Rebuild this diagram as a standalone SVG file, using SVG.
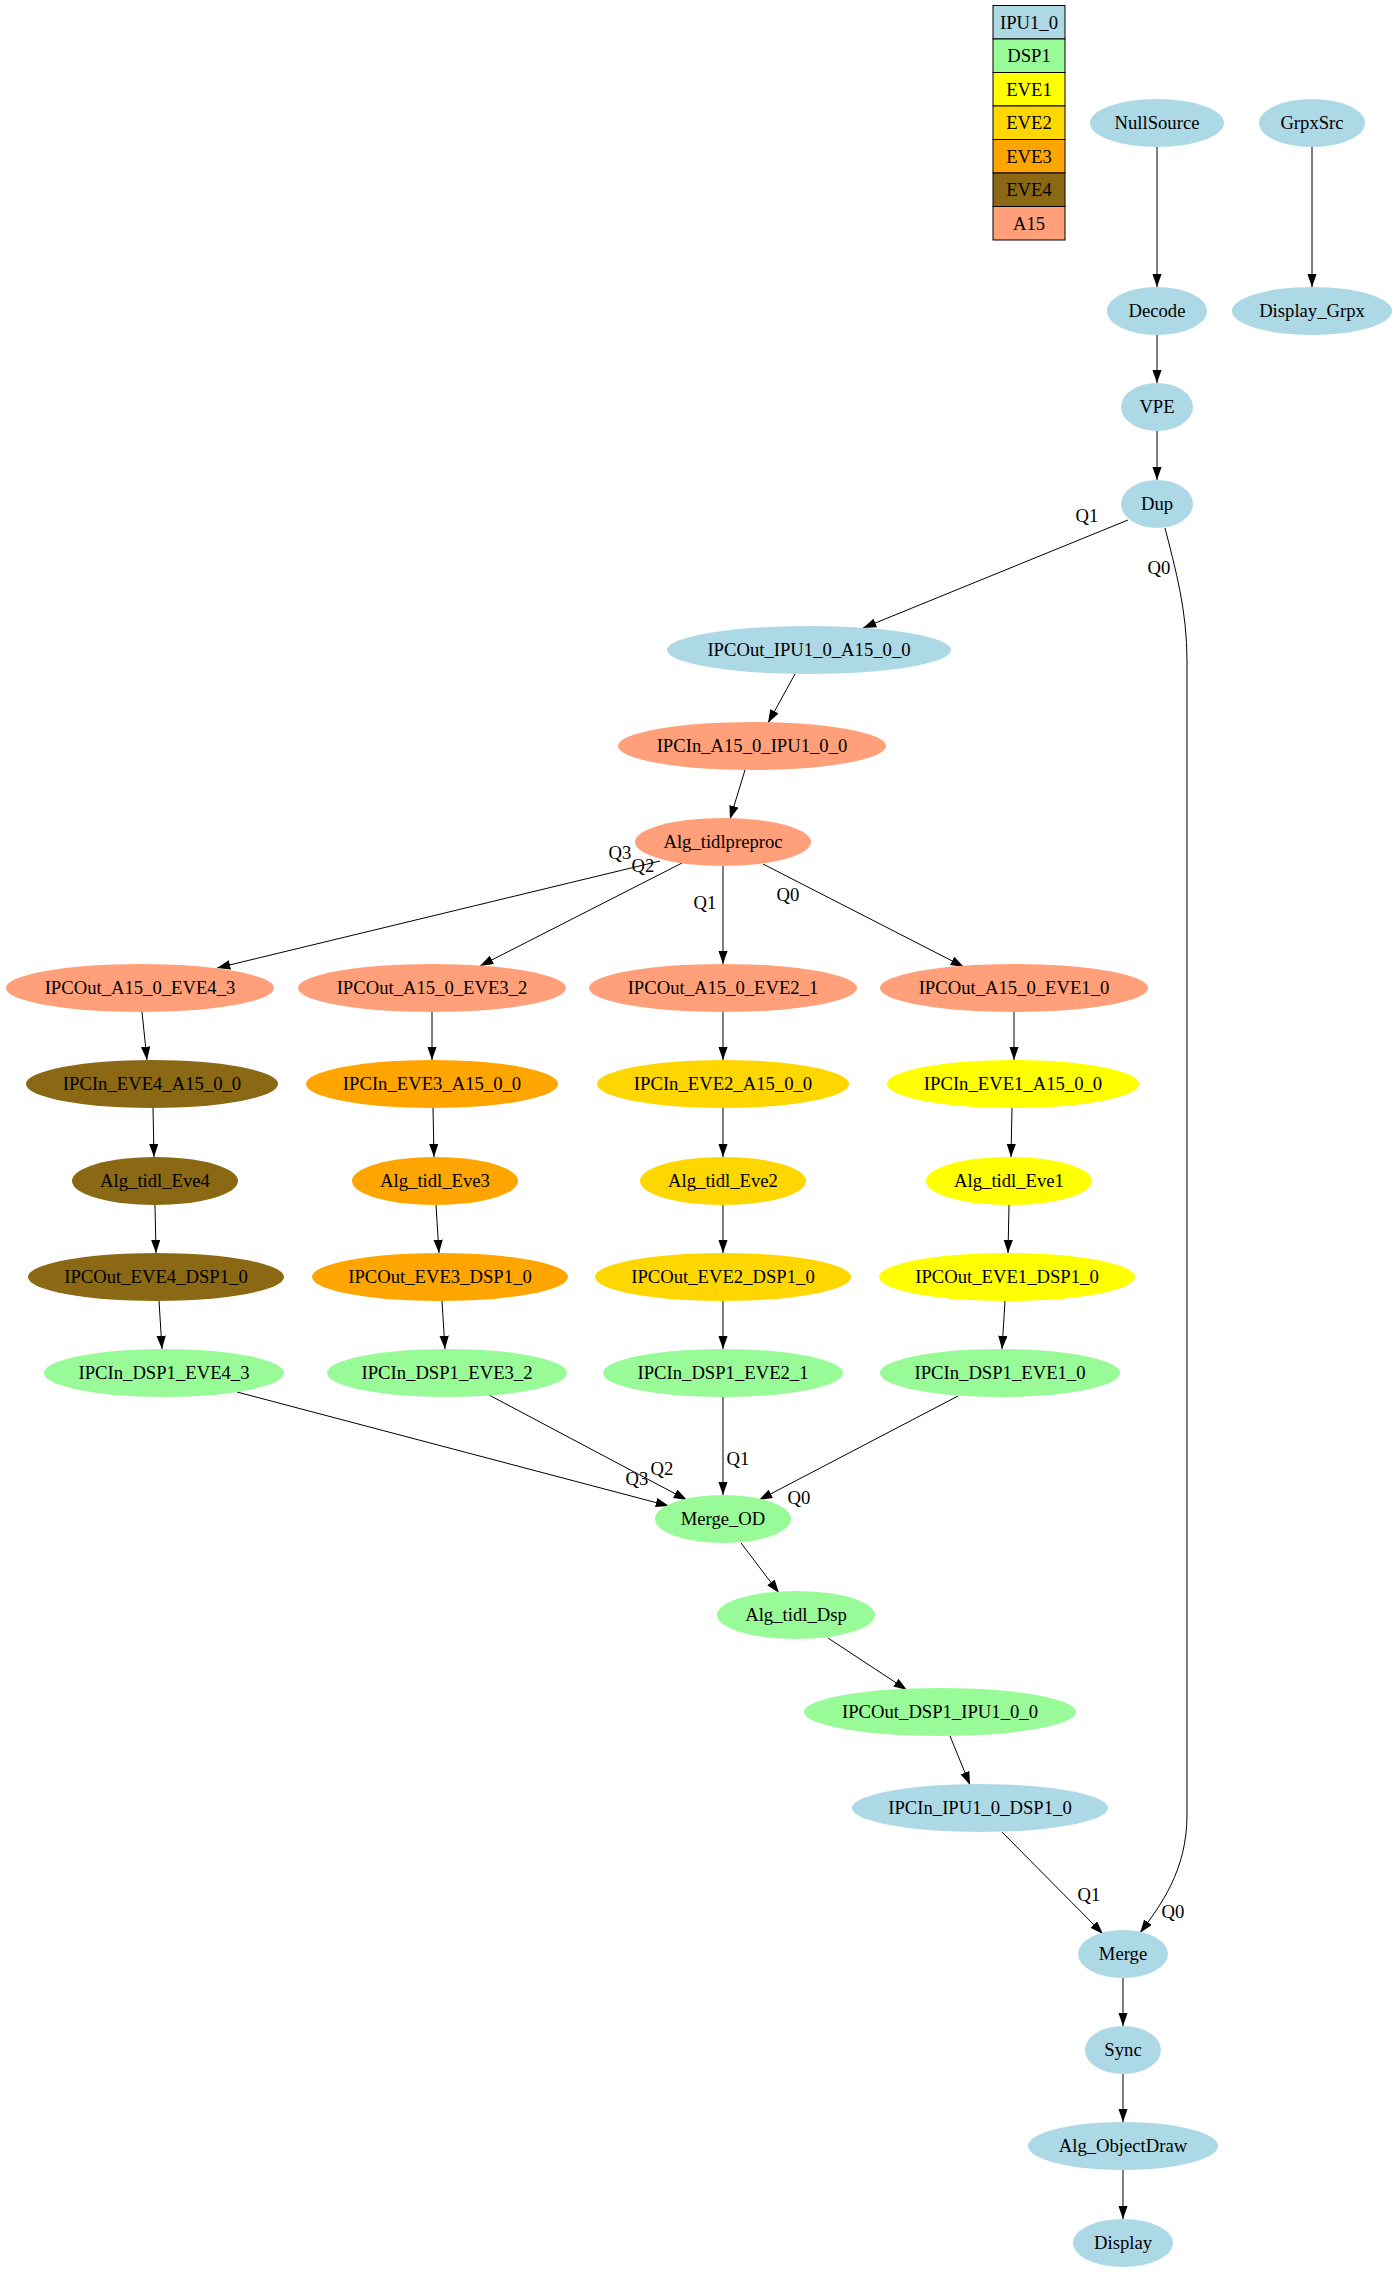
<svg xmlns="http://www.w3.org/2000/svg" width="1397" height="2272" viewBox="0 0 1397 2272">
<style>
text{font-family:"Liberation Serif","Times New Roman",serif;font-size:18.67px;fill:#000;text-anchor:middle}
.e{fill:none;stroke:#000;stroke-width:1;marker-end:url(#ah)}
.ipu{fill:#ADD8E6}.dsp{fill:#98FB98}.eve1{fill:#FFFF00}.eve2{fill:#FFD700}.eve3{fill:#FFA500}.eve4{fill:#8B6914}.a15{fill:#FFA07A}
.lg{stroke:#000;stroke-width:1}
</style>
<defs>
<marker id="ah" markerWidth="14" markerHeight="10" refX="13.3" refY="4.67" orient="auto" markerUnits="userSpaceOnUse"><path d="M0,0 L13.3,4.67 L0,9.33 z" fill="#000"/></marker>
</defs>
<rect width="1397" height="2272" fill="#fff"/>
<g id="legend">
<rect class="lg ipu" x="993" y="5.5" width="72" height="33.5"/><text x="1029" y="28.7">IPU1_0</text>
<rect class="lg dsp" x="993" y="39" width="72" height="33.5"/><text x="1029" y="62.2">DSP1</text>
<rect class="lg eve1" x="993" y="72.5" width="72" height="33.5"/><text x="1029" y="95.7">EVE1</text>
<rect class="lg eve2" x="993" y="106" width="72" height="33.5"/><text x="1029" y="129.2">EVE2</text>
<rect class="lg eve3" x="993" y="139.5" width="72" height="33.5"/><text x="1029" y="162.7">EVE3</text>
<rect class="lg eve4" x="993" y="173" width="72" height="33.5"/><text x="1029" y="196.2">EVE4</text>
<rect class="lg a15" x="993" y="206.5" width="72" height="33.5"/><text x="1029" y="229.7">A15</text>
</g>
<g transform="translate(0,1)">
<g id="edges">
<path class="e" d="M1157,146 L1157,286"/>
<path class="e" d="M1312,146 L1312,286"/>
<path class="e" d="M1157,334 L1157,382"/>
<path class="e" d="M1157,430 L1157,479"/>
<path class="e" d="M1128,519 L863,627"/>
<text x="1087" y="521">Q1</text>
<path class="e" d="M1165,527 C1176,570 1187,610 1187,660 L1187,1814 C1187,1870 1160,1905 1140,1932"/>
<text x="1159" y="573">Q0</text>
<path class="e" d="M795,673 L768,722"/>
<path class="e" d="M745,769 L730,818"/>
<path class="e" d="M660,860 L217,967"/>
<text x="620" y="858">Q3</text>
<path class="e" d="M682,862 L480,965"/>
<text x="643" y="871">Q2</text>
<path class="e" d="M723,865 L723,963"/>
<text x="705" y="908">Q1</text>
<path class="e" d="M763,863 L964,966"/>
<text x="788" y="900">Q0</text>
<path class="e" d="M142,1011 L147,1059"/>
<path class="e" d="M432,1011 L432,1059"/>
<path class="e" d="M723,1011 L723,1059"/>
<path class="e" d="M1014,1011 L1014,1059"/>
<path class="e" d="M153,1107 L154,1156"/>
<path class="e" d="M433,1107 L434,1156"/>
<path class="e" d="M723,1107 L723,1156"/>
<path class="e" d="M1012,1107 L1011,1156"/>
<path class="e" d="M155,1204 L156,1252"/>
<path class="e" d="M436,1204 L439,1252"/>
<path class="e" d="M723,1204 L723,1252"/>
<path class="e" d="M1009,1204 L1008,1252"/>
<path class="e" d="M159,1300 L162,1348"/>
<path class="e" d="M442,1300 L445,1348"/>
<path class="e" d="M723,1300 L723,1348"/>
<path class="e" d="M1005,1300 L1002,1348"/>
<path class="e" d="M237,1391 L669,1505"/>
<text x="637" y="1484">Q3</text>
<path class="e" d="M489,1394 L687,1499"/>
<text x="662" y="1474">Q2</text>
<path class="e" d="M723,1396 L723,1494"/>
<text x="738" y="1464">Q1</text>
<path class="e" d="M958,1395 L759,1499"/>
<text x="799" y="1503">Q0</text>
<path class="e" d="M741,1542 L779,1592"/>
<path class="e" d="M828,1637 L907,1689"/>
<path class="e" d="M950,1735 L970,1784"/>
<path class="e" d="M1002,1831 L1103,1933"/>
<text x="1089" y="1900">Q1</text>
<text x="1173" y="1917">Q0</text>
<path class="e" d="M1123,1977 L1123,2025"/>
<path class="e" d="M1123,2073 L1123,2121"/>
<path class="e" d="M1123,2169 L1123,2218"/>
</g>
<g id="NullSource"><ellipse class="ipu" cx="1157" cy="122" rx="67" ry="24"/><text x="1157" y="128">NullSource</text></g>
<g id="GrpxSrc"><ellipse class="ipu" cx="1312" cy="122" rx="53" ry="24"/><text x="1312" y="128">GrpxSrc</text></g>
<g id="Decode"><ellipse class="ipu" cx="1157" cy="310" rx="50" ry="24"/><text x="1157" y="316">Decode</text></g>
<g id="Display_Grpx"><ellipse class="ipu" cx="1312" cy="310" rx="80" ry="24"/><text x="1312" y="316">Display_Grpx</text></g>
<g id="VPE"><ellipse class="ipu" cx="1157" cy="406" rx="36" ry="24"/><text x="1157" y="412">VPE</text></g>
<g id="Dup"><ellipse class="ipu" cx="1157" cy="503" rx="36" ry="24"/><text x="1157" y="509">Dup</text></g>
<g id="IPCOut_IPU1_0_A15_0_0"><ellipse class="ipu" cx="809" cy="649" rx="142" ry="24"/><text x="809" y="655">IPCOut_IPU1_0_A15_0_0</text></g>
<g id="IPCIn_A15_0_IPU1_0_0"><ellipse class="a15" cx="752" cy="745" rx="134" ry="24"/><text x="752" y="751">IPCIn_A15_0_IPU1_0_0</text></g>
<g id="Alg_tidlpreproc"><ellipse class="a15" cx="723" cy="841" rx="88" ry="24"/><text x="723" y="847">Alg_tidlpreproc</text></g>
<g id="IPCOut_A15_0_EVE4_3"><ellipse class="a15" cx="140" cy="987" rx="134" ry="24"/><text x="140" y="993">IPCOut_A15_0_EVE4_3</text></g>
<g id="IPCOut_A15_0_EVE3_2"><ellipse class="a15" cx="432" cy="987" rx="134" ry="24"/><text x="432" y="993">IPCOut_A15_0_EVE3_2</text></g>
<g id="IPCOut_A15_0_EVE2_1"><ellipse class="a15" cx="723" cy="987" rx="134" ry="24"/><text x="723" y="993">IPCOut_A15_0_EVE2_1</text></g>
<g id="IPCOut_A15_0_EVE1_0"><ellipse class="a15" cx="1014" cy="987" rx="134" ry="24"/><text x="1014" y="993">IPCOut_A15_0_EVE1_0</text></g>
<g id="IPCIn_EVE4_A15_0_0"><ellipse class="eve4" cx="152" cy="1083" rx="126" ry="24"/><text x="152" y="1089">IPCIn_EVE4_A15_0_0</text></g>
<g id="IPCIn_EVE3_A15_0_0"><ellipse class="eve3" cx="432" cy="1083" rx="126" ry="24"/><text x="432" y="1089">IPCIn_EVE3_A15_0_0</text></g>
<g id="IPCIn_EVE2_A15_0_0"><ellipse class="eve2" cx="723" cy="1083" rx="126" ry="24"/><text x="723" y="1089">IPCIn_EVE2_A15_0_0</text></g>
<g id="IPCIn_EVE1_A15_0_0"><ellipse class="eve1" cx="1013" cy="1083" rx="126" ry="24"/><text x="1013" y="1089">IPCIn_EVE1_A15_0_0</text></g>
<g id="Alg_tidl_Eve4"><ellipse class="eve4" cx="155" cy="1180" rx="83" ry="24"/><text x="155" y="1186">Alg_tidl_Eve4</text></g>
<g id="Alg_tidl_Eve3"><ellipse class="eve3" cx="435" cy="1180" rx="83" ry="24"/><text x="435" y="1186">Alg_tidl_Eve3</text></g>
<g id="Alg_tidl_Eve2"><ellipse class="eve2" cx="723" cy="1180" rx="83" ry="24"/><text x="723" y="1186">Alg_tidl_Eve2</text></g>
<g id="Alg_tidl_Eve1"><ellipse class="eve1" cx="1009" cy="1180" rx="83" ry="24"/><text x="1009" y="1186">Alg_tidl_Eve1</text></g>
<g id="IPCOut_EVE4_DSP1_0"><ellipse class="eve4" cx="156" cy="1276" rx="128" ry="24"/><text x="156" y="1282">IPCOut_EVE4_DSP1_0</text></g>
<g id="IPCOut_EVE3_DSP1_0"><ellipse class="eve3" cx="440" cy="1276" rx="128" ry="24"/><text x="440" y="1282">IPCOut_EVE3_DSP1_0</text></g>
<g id="IPCOut_EVE2_DSP1_0"><ellipse class="eve2" cx="723" cy="1276" rx="128" ry="24"/><text x="723" y="1282">IPCOut_EVE2_DSP1_0</text></g>
<g id="IPCOut_EVE1_DSP1_0"><ellipse class="eve1" cx="1007" cy="1276" rx="128" ry="24"/><text x="1007" y="1282">IPCOut_EVE1_DSP1_0</text></g>
<g id="IPCIn_DSP1_EVE4_3"><ellipse class="dsp" cx="164" cy="1372" rx="120" ry="24"/><text x="164" y="1378">IPCIn_DSP1_EVE4_3</text></g>
<g id="IPCIn_DSP1_EVE3_2"><ellipse class="dsp" cx="447" cy="1372" rx="120" ry="24"/><text x="447" y="1378">IPCIn_DSP1_EVE3_2</text></g>
<g id="IPCIn_DSP1_EVE2_1"><ellipse class="dsp" cx="723" cy="1372" rx="120" ry="24"/><text x="723" y="1378">IPCIn_DSP1_EVE2_1</text></g>
<g id="IPCIn_DSP1_EVE1_0"><ellipse class="dsp" cx="1000" cy="1372" rx="120" ry="24"/><text x="1000" y="1378">IPCIn_DSP1_EVE1_0</text></g>
<g id="Merge_OD"><ellipse class="dsp" cx="723" cy="1518" rx="68" ry="24"/><text x="723" y="1524">Merge_OD</text></g>
<g id="Alg_tidl_Dsp"><ellipse class="dsp" cx="796" cy="1614" rx="79" ry="24"/><text x="796" y="1620">Alg_tidl_Dsp</text></g>
<g id="IPCOut_DSP1_IPU1_0_0"><ellipse class="dsp" cx="940" cy="1711" rx="136" ry="24"/><text x="940" y="1717">IPCOut_DSP1_IPU1_0_0</text></g>
<g id="IPCIn_IPU1_0_DSP1_0"><ellipse class="ipu" cx="980" cy="1807" rx="128" ry="24"/><text x="980" y="1813">IPCIn_IPU1_0_DSP1_0</text></g>
<g id="Merge"><ellipse class="ipu" cx="1123" cy="1953" rx="45" ry="24"/><text x="1123" y="1959">Merge</text></g>
<g id="Sync"><ellipse class="ipu" cx="1123" cy="2049" rx="38" ry="24"/><text x="1123" y="2055">Sync</text></g>
<g id="Alg_ObjectDraw"><ellipse class="ipu" cx="1123" cy="2145" rx="95" ry="24"/><text x="1123" y="2151">Alg_ObjectDraw</text></g>
<g id="Display"><ellipse class="ipu" cx="1123" cy="2242" rx="50" ry="24"/><text x="1123" y="2248">Display</text></g>
</g>
</svg>
